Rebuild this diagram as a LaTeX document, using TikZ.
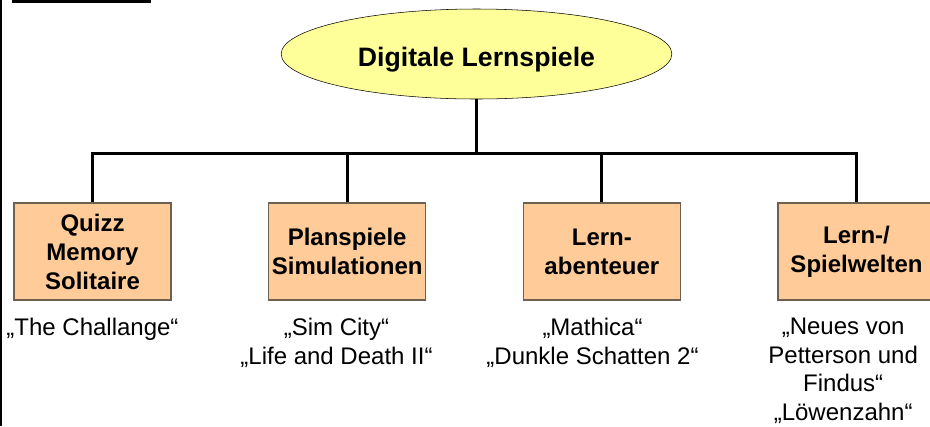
\documentclass[tikz,border=0pt]{standalone}
\usepackage{fontspec}
\setmainfont{Liberation Sans}
\usetikzlibrary{positioning, shapes.geometric}

\definecolor{rootfill}{RGB}{255,255,153}
\definecolor{typefill}{RGB}{255,204,153}
\definecolor{typeline}{RGB}{110,96,82}

\begin{document}
\begin{tikzpicture}[x=0.75pt, y=-0.75pt, node distance=191pt, on grid,
	root/.style={ellipse, draw, thin, fill=rootfill, minimum width=293pt, minimum height=67.5pt, inner sep=0pt, text height=19pt, text depth=0pt, font=\fontsize{20}{24}\selectfont\bfseries},
	typebox/.style={rectangle, draw=typeline, line width=0.8pt, fill=typefill, minimum width=117.75pt, minimum height=72.75pt, inner sep=0pt, align=center, font=\fontsize{18}{21.75}\selectfont\bfseries},
	example/.style={on grid=false, below=13pt of #1, inner sep=0pt, align=center, font=\fontsize{18}{22}\selectfont},
	link/.style={line width=2.25pt}]

	\useasboundingbox (0,0) rectangle (930,426);
	\fill (12,0) rectangle (151,3);
	\draw[line width=1.5pt] (1,0) -- (1,426);

	\node[root] (root) at (476.5,54) {Digitale Lernspiele};
	\node[typebox] (quiz) at (92.5,251.5) {Quizz\\Memory\\Solitaire};
	\node[typebox] (plan) [right=of quiz] {Planspiele\\Simulationen};
	\node[typebox] (adv) [right=of plan] {Lern-\\abenteuer};
	\node[typebox] (world) [right=of adv] {Lern-/\\Spielwelten};

	\node[example=quiz] (quizex) {„The Challange“};
	\node[example=plan, xshift=-8pt] (planex) {„Sim City“\\„Life and Death II“};
	\node[example=adv, xshift=-7pt] (advex) {„Mathica“\\„Dunkle Schatten 2“};
	\node[example=world, xshift=-10pt, font=\fontsize{18}{21.5}\selectfont] (worldex) {„Neues von\\Petterson und\\Findus“\\„Löwenzahn“};

	\foreach \t in {quiz, plan, adv, world}
		\draw[link] (root.south) -- ++(0,54) -| (\t.north);
\end{tikzpicture}
\end{document}
